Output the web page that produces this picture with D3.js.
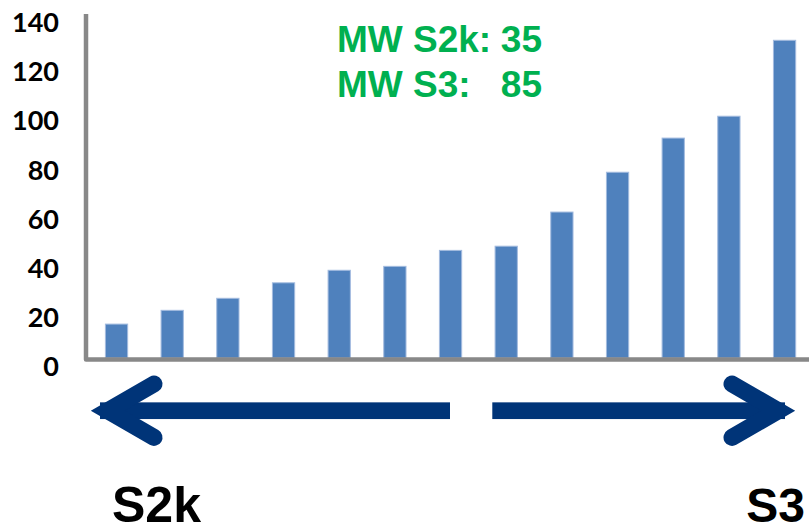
<!DOCTYPE html>
<html>
<head>
<meta charset="utf-8">
<script src="https://cdn.jsdelivr.net/npm/d3@7"></script>
<style>
  html, body { margin: 0; padding: 0; background: #fff; }
  svg { display: block; }
</style>
</head>
<body>
<svg id="chart" width="809" height="528"></svg>
<script>
// Samples ordered from S2k-like to S3-like
const categories = ["1", "2", "3", "4", "5", "6", "7", "8", "9", "10", "11", "12", "13"];
const values = [13.8, 19.4, 24.3, 30.6, 35.7, 37.3, 43.8, 45.5, 59.4, 75.6, 89.5, 98.4, 129.3];
const yTicks = [0, 20, 40, 60, 80, 100, 120, 140];
const meanLabels = ["MW S2k:", "MW S3:"];
const meanValues = [35, 85];
const endLabels = ["S2k", "S3"];

const svg = d3.select("#chart");

const x = d3.scaleBand()
  .domain(categories)
  .range([88.7, 812.4])
  .paddingInner(0.6)
  .paddingOuter(0.3);

const y = d3.scaleLinear()
  .domain([0, 140])
  .range([358, 14]);

// Bars
svg.append("g")
  .selectAll("rect")
  .data(values)
  .join("rect")
  .attr("x", (d, i) => x(categories[i]))
  .attr("y", d => y(d))
  .attr("width", x.bandwidth())
  .attr("height", d => y(0) - y(d))
  .attr("fill", "#4f81bd")
  .attr("stroke", "#a3bbdf")
  .attr("stroke-width", 1);

// Y axis labels (no tick marks)
const yAxis = d3.axisLeft(y).tickValues(yTicks).tickSize(0).tickPadding(0);
const gy = svg.append("g")
  .attr("transform", "translate(59,0)")
  .call(yAxis);
gy.select(".domain").remove();
gy.selectAll("text")
  .attr("dy", "0.32em")
  .attr("y", 9)
  .attr("fill", "#000")
  .style("font-family", "Lato, 'Open Sans', sans-serif")
  .style("font-weight", "bold")
  .style("font-size", "27px");

// Axis frame (left + bottom)
svg.append("path")
  .attr("d", `M86,${y(140)} V359.5 H809`)
  .attr("fill", "none")
  .attr("stroke", "#888888")
  .attr("stroke-width", 4.5)
  .attr("stroke-linejoin", "round");

// Mean values
const meanG = svg.append("g")
  .style("font-family", "'Liberation Sans', Arial, sans-serif")
  .style("font-weight", "bold")
  .style("font-size", "37px")
  .attr("fill", "#00b050");
meanLabels.forEach((lab, i) => {
  const by = 51.7 + i * 45;
  meanG.append("text").attr("x", 337).attr("y", by).text(lab);
  meanG.append("text").attr("x", 542).attr("y", by).attr("text-anchor", "end").text(meanValues[i]);
});

// Direction arrows
const navy = "#003478";
const arrowY = 410.7;
const shaftH = 16.7;
const arrows = svg.append("g");
arrows.append("rect")
  .attr("x", 100).attr("y", arrowY - shaftH / 2)
  .attr("width", 450 - 100).attr("height", shaftH)
  .attr("fill", navy);
arrows.append("rect")
  .attr("x", 492.3).attr("y", arrowY - shaftH / 2)
  .attr("width", 785 - 492.3).attr("height", shaftH)
  .attr("fill", navy);
// arrow heads: chevrons with round caps and mitered points
const head = (vx, capX) => `M${capX},${arrowY - 26.7} L${vx},${arrowY} L${capX},${arrowY + 26.7}`;
arrows.append("path")
  .attr("d", head(107.8, 154))
  .attr("fill", "none").attr("stroke", navy).attr("stroke-width", 17)
  .attr("stroke-linecap", "round").attr("stroke-linejoin", "miter").attr("stroke-miterlimit", 10);
arrows.append("path")
  .attr("d", head(778.2, 732))
  .attr("fill", "none").attr("stroke", navy).attr("stroke-width", 17)
  .attr("stroke-linecap", "round").attr("stroke-linejoin", "miter").attr("stroke-miterlimit", 10);

// End labels
const endG = svg.append("g")
  .style("font-family", "'Liberation Sans', Arial, sans-serif")
  .style("font-weight", "bold")
  .attr("fill", "#000");
endG.append("text").attr("x", 112).attr("y", 522).style("font-size", "50px").text(endLabels[0]);
endG.append("text").attr("x", 805).attr("y", 522).attr("text-anchor", "end").style("font-size", "48px").text(endLabels[1]);
</script>
</body>
</html>
